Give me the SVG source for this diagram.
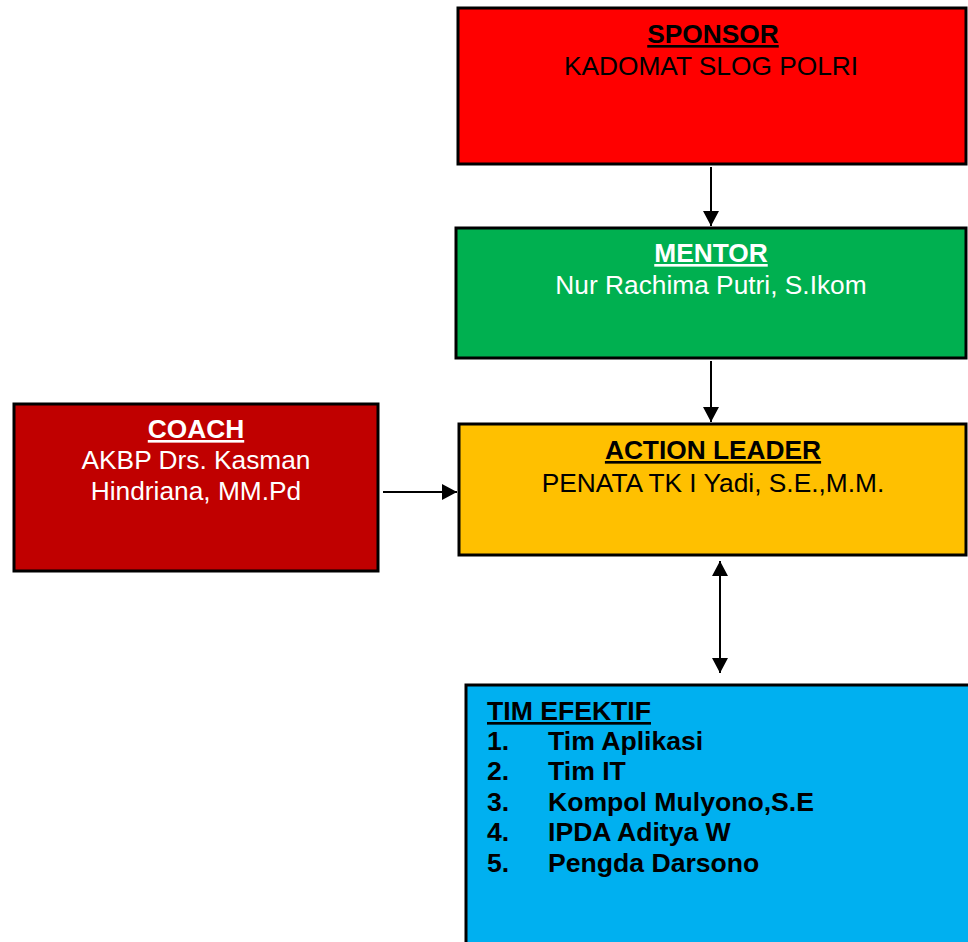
<svg xmlns="http://www.w3.org/2000/svg" width="968" height="942" viewBox="0 0 968 942">
<style>
.box{stroke:#000;stroke-width:3}
text{font-family:"Liberation Sans",Arial,sans-serif;font-size:26.3px}
.c{text-anchor:middle}
.b{font-weight:bold}
.u{text-decoration:underline}
.w{fill:#fff}
.l{font-size:26.6px}
.conn{stroke:#000;stroke-width:2;fill:none}
</style>
<defs>
<marker id="ah" markerWidth="15" markerHeight="16" refX="15" refY="8" orient="auto-start-reverse" markerUnits="userSpaceOnUse" viewBox="0 0 15 16">
<path d="M0,0 L15,8 L0,16 Z" fill="#000"/>
</marker>
</defs>
<rect width="968" height="942" fill="#fff"/>
<g id="sponsor">
<rect class="box" x="458" y="8" width="508" height="156" fill="#FF0000"/>
<text class="c b u" x="713" y="43">SPONSOR</text>
<text class="c" x="711" y="75">KADOMAT SLOG POLRI</text>
</g>
<g id="mentor">
<rect class="box" x="456" y="228" width="510" height="130" fill="#00B050"/>
<text class="c b u w" x="711" y="262">MENTOR</text>
<text class="c w" x="711" y="294">Nur Rachima Putri, S.Ikom</text>
</g>
<g id="action-leader">
<rect class="box" x="459" y="424" width="507" height="131" fill="#FFC000"/>
<text class="c b u" x="713" y="459">ACTION LEADER</text>
<text class="c" x="713" y="492">PENATA TK I Yadi, S.E.,M.M.</text>
</g>
<g id="coach">
<rect class="box" x="14" y="404" width="364" height="167" fill="#C00000"/>
<text class="c b u w" x="196" y="438">COACH</text>
<text class="c w" x="196" y="469">AKBP Drs. Kasman</text>
<text class="c w" x="196" y="500">Hindriana, MM.Pd</text>
</g>
<g id="tim-efektif">
<rect class="box" x="466" y="685" width="520" height="300" fill="#00B0F0"/>
<text class="b u l" x="487" y="720">TIM EFEKTIF</text>
<text class="b l" x="487" y="750">1.</text><text class="b l" x="548" y="750">Tim Aplikasi</text>
<text class="b l" x="487" y="780">2.</text><text class="b l" x="548" y="780">Tim IT</text>
<text class="b l" x="487" y="811">3.</text><text class="b l" x="548" y="811">Kompol Mulyono,S.E</text>
<text class="b l" x="487" y="841">4.</text><text class="b l" x="548" y="841">IPDA Aditya W</text>
<text class="b l" x="487" y="872">5.</text><text class="b l" x="548" y="872">Pengda Darsono</text>
</g>
<g id="connectors">
<line class="conn" x1="711" y1="167" x2="711" y2="226" marker-end="url(#ah)"/>
<line class="conn" x1="711" y1="361" x2="711" y2="422" marker-end="url(#ah)"/>
<line class="conn" x1="383" y1="492" x2="457" y2="492" marker-end="url(#ah)"/>
<line class="conn" x1="720" y1="561" x2="720" y2="673" marker-start="url(#ah)" marker-end="url(#ah)"/>
</g>
</svg>
